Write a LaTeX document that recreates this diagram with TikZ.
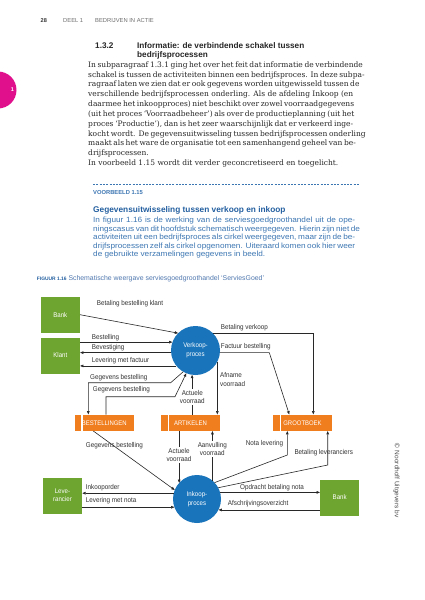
\documentclass[tikz,border=0pt]{standalone}
\usepackage{fontspec}
\setmainfont{DejaVu Serif}
\newfontfamily\labfont{Liberation Sans}[FakeStretch=0.9]
\newfontfamily\hsans{Liberation Sans}
\newfontfamily\bsans{Liberation Sans}[FakeStretch=1.08]
\newfontfamily\serfont{DejaVu Serif}
\newfontfamily\symfont{DejaVu Sans}
\usetikzlibrary{arrows.meta}
\definecolor{grn}{RGB}{110,164,48}
\definecolor{org}{RGB}{240,125,30}
\definecolor{pblue}{RGB}{25,116,187}
\definecolor{mag}{RGB}{224,16,140}
\definecolor{bltxt}{RGB}{60,118,178}
\definecolor{bltitle}{RGB}{35,95,160}
\definecolor{captxt}{RGB}{80,120,175}
\definecolor{lincol}{RGB}{40,40,40}
\definecolor{lbltxt}{RGB}{50,50,50}
\definecolor{hdgray}{RGB}{110,110,110}
\begin{document}
\begin{tikzpicture}[x=1pt,y=-1pt,
  conn/.style={draw=lincol, line width=0.6pt, -{Triangle[length=3.4pt,width=2.6pt]}},
  lbl/.style={font=\labfont\fontsize{7}{8.3}\selectfont, text=lbltxt, inner sep=0pt, align=left},
  lblon/.style={lbl, fill=white, inner sep=1pt, align=center},
  gbox/.style={fill=grn, minimum width=39.5pt, minimum height=36pt, inner sep=0pt, outer sep=0pt, text=white, align=center, font=\labfont\fontsize{6.8}{8.3}\selectfont},
  pcirc/.style={circle, fill=pblue, minimum size=49pt, inner sep=0pt, outer sep=0pt, text=white, align=center, font=\labfont\fontsize{6.8}{8.6}\selectfont},
  store/.style={fill=org, minimum width=59.5pt, minimum height=16.5pt, inner sep=0pt, outer sep=0pt, text=white, font=\labfont\fontsize{6.6}{8}\selectfont},
  bodytxt/.style={font=\serfont\fontsize{7.5}{9.8}\selectfont, text=black!85, inner sep=0pt},
  bluetxt/.style={font=\bsans\fontsize{7.6}{8.5}\selectfont, text=bltxt, inner sep=0pt}
]
\useasboundingbox (0,0) rectangle (425,600);
\fill[white] (0,0) rectangle (425,600);

% header
\node[font=\hsans\bfseries\fontsize{5.6}{6}\selectfont, text=black!80, anchor=west, inner sep=0pt] (pnum) at (40.5,20.7) {28};
\node[font=\hsans\fontsize{5.8}{6}\selectfont, text=hdgray, anchor=west, inner sep=0pt] (deel) at (63,20.7) {DEEL 1};
\node[font=\hsans\fontsize{5.8}{6}\selectfont, text=hdgray, anchor=west, inner sep=0pt] (hdtitle) at (95,20.7) {BEDRIJVEN IN ACTIE};

% chapter tab
\fill[mag] (-2,90) circle (18.5);
\node[font=\hsans\bfseries\fontsize{5.5}{6}\selectfont, text=white, inner sep=0pt] (tab) at (12.5,89.5) {1};

% section heading
\node[font=\hsans\bfseries\fontsize{8.2}{9}\selectfont, text=black!85, anchor=base west, inner sep=0pt] (secnum) at (95,48.6) {1.3.2};
\node[font=\hsans\bfseries\fontsize{8.2}{9}\selectfont, text=black!85, anchor=base west, inner sep=0pt] (sect1) at (137,48.6) {Informatie: de verbindende schakel tussen};
\node[font=\hsans\bfseries\fontsize{8.2}{9}\selectfont, text=black!85, anchor=base west, inner sep=0pt] (sect2) at (137,57.6) {bedrijfsprocessen};

% body text
\foreach \t [count=\i] in {
 {\makebox[265pt][s]{In subparagraaf 1.3.1 ging het over het feit dat informatie de verbindende}},
 {\makebox[265pt][s]{schakel is tussen de activiteiten binnen een bedrijfsproces. In deze subpa-}},
 {\makebox[265pt][s]{ragraaf laten we zien dat er ook gegevens worden uitgewisseld tussen de}},
 {\makebox[265pt][s]{verschillende bedrijfsprocessen onderling. Als de afdeling Inkoop (en}},
 {\makebox[265pt][s]{daarmee het inkoopproces) niet beschikt over zowel voorraadgegevens}},
 {\makebox[265pt][s]{(uit het proces ‘Voorraadbeheer’) als over de productieplanning (uit het}},
 {\makebox[265pt][s]{proces ‘Productie’), dan is het zeer waarschijnlijk dat er verkeerd inge-}},
 {\makebox[265pt][s]{kocht wordt. De gegevensuitwisseling tussen bedrijfsprocessen onderling}},
 {\makebox[265pt][s]{maakt als het ware de organisatie tot een samenhangend geheel van be-}},
 {drijfsprocessen.},
 {In voorbeeld 1.15 wordt dit verder geconcretiseerd en toegelicht.}}
 \node[bodytxt, anchor=base west] (body\i) at (88,{67.2+9.83*(\i-1)}) {\t};

% example block
\draw[bltxt, line width=0.5pt, dash pattern=on 2pt off 1.3pt] (93,184) -- (360,184);
\node[font=\hsans\bfseries\fontsize{5.8}{6}\selectfont, text=bltxt, anchor=west, inner sep=0pt] (vb) at (93,192.5) {VOORBEELD 1.15};
\node[font=\hsans\bfseries\fontsize{8.3}{9}\selectfont, text=bltitle, anchor=west, inner sep=0pt] (vbtitle) at (93,210.7) {Gegevensuitwisseling tussen verkoop en inkoop};
\foreach \t [count=\i] in {
 {\makebox[262pt][s]{In figuur 1.16 is de werking van de serviesgoedgroothandel uit de ope-}},
 {\makebox[262pt][s]{ningscasus van dit hoofdstuk schematisch weergegeven. Hierin zijn niet de}},
 {\makebox[262pt][s]{activiteiten uit een bedrijfsproces als cirkel weergegeven, maar zijn de be-}},
 {\makebox[262pt][s]{drijfsprocessen zelf als cirkel opgenomen. Uiteraard komen ook hier weer}},
 {de gebruikte verzamelingen gegevens in beeld.}}
 \node[bluetxt, anchor=base west] (blue\i) at (93,{222.6+8.5*(\i-1)}) {\t};

% caption
\node[font=\hsans\bfseries\fontsize{4.9}{6}\selectfont, text=bltitle, anchor=west, inner sep=0pt] (fig) at (36.7,279) {FIGUUR 1.16};
\node[font=\hsans\fontsize{6.9}{8}\selectfont, text=captxt, anchor=west, inner sep=0pt] (figcap) at (68.3,279) {Schematische weergave serviesgoedgroothandel ‘ServiesGoed’};

% copyright
\node[font=\hsans\fontsize{6.5}{7}\selectfont, text=black!70, rotate=-90, inner sep=0pt] (copy) at (396.5,480) {{\symfont ©} Noordhoff Uitgevers bv};

% ---- diagram nodes ----
\node[gbox] (bank1) at (60.3,314.7) {Bank};
\node[gbox] (klant) at (60.3,355.5) {Klant};
\node[pcirc] (verkoop) at (195.5,350.5) {Verkoop-\\proces};
\node[gbox] (lev) at (62.5,495.5) {Leve-\\rancier};
\node[gbox] (bank2) at (339.7,497.5) {Bank};
\node[pcirc, minimum size=48pt] (inkoop) at (197,499) {Inkoop-\\proces};

\node[store] (best) at (104.3,422.75) {BESTELLINGEN};
\node[store] (art) at (190.5,422.75) {ARTIKELEN};
\node[store] (groot) at (302.5,422.75) {GROOTBOEK};
\foreach \s in {best,art,groot}
  \draw[white, line width=1.2pt] ([xshift=7.5pt]\s.north west) -- ([xshift=7.5pt]\s.south west);

% bend points
\coordinate (g1a) at (170.7,382.7);
\coordinate (g1b) at (88.3,382.7);
\coordinate (g2a) at (175,396.7);
\coordinate (g2b) at (106,396.7);
\coordinate (fb1) at (269.3,352.6);
\coordinate (nl1) at (287.3,455);
\coordinate (bl1) at (327.7,465);

% ---- connectors ----
\draw[conn] (bank1.east) -- (verkoop.135);
\draw[conn] (klant.east |- verkoop.160.4) -- (verkoop.160.4);
\draw[conn] (verkoop.185.2) -- (klant.east |- verkoop.185.2);
\draw[conn] (verkoop.219.3) -- (klant.east |- verkoop.219.3);
\draw[conn] (verkoop.240) -- (g1a) -- (g1b) -- (g1b |- best.north);
\draw[conn] (g2b |- best.north) -- (g2b) -- (g2a) -- (verkoop.248);
\draw[conn] (verkoop.262.5 |- art.north) -- (verkoop.262.5);
\draw[conn] (verkoop.333) -- (verkoop.333 |- art.north);
\draw[conn] (verkoop.46.6) -| ([xshift=10.8pt]groot.north);
\draw[conn] (verkoop.-5) -- (fb1) -- ([xshift=-13.2pt]groot.north);

\draw[conn] ([xshift=-11pt]best.south) -- (inkoop.158);
\draw[conn] (inkoop.138.6 |- art.south) -- (inkoop.138.6);
\draw[conn] (inkoop.50.4) -- (inkoop.50.4 |- art.south);
\draw[conn] (inkoop.43.9) -- (nl1) -- (nl1 |- groot.south);
\draw[conn] (inkoop.28.8) -- (bl1) -- (bl1 |- groot.south);
\draw[conn] (inkoop.16.2) -- (bank2.west |- inkoop.16.2);
\draw[conn] (bank2.west |- inkoop.-27.3) -- (inkoop.-27.3);
\draw[conn] (inkoop.166.3) -- (lev.east |- inkoop.166.3);
\draw[conn] (lev.east |- inkoop.200.2) -- (inkoop.200.2);

% ---- labels ----
\node[lbl, anchor=west] (l1) at (96.7,304) {Betaling bestelling klant};
\node[lbl, anchor=west] (l2) at (91.7,337.7) {Bestelling};
\node[lbl, anchor=west] (l3) at (91.7,347.3) {Bevestiging};
\node[lbl, anchor=west] (l4) at (91.7,360.3) {Levering met factuur};
\node[lbl, anchor=west] (l5) at (90,377.3) {Gegevens bestelling};
\node[lbl, anchor=west] (l6) at (92.7,389.3) {Gegevens bestelling};
\node[lblon] (l7) at (192.3,397) {Actuele\\voorraad};
\node[lbl, anchor=west] (l8) at (220,379.6) {Afname\\voorraad};
\node[lbl, anchor=west] (l9) at (220.7,327.3) {Betaling verkoop};
\node[lbl, anchor=west] (l10) at (220.7,347) {Factuur bestelling};
\node[lbl, anchor=west] (l11) at (85.7,445.7) {Gegevens bestelling};
\node[lblon] (l12) at (179,455) {Actuele\\voorraad};
\node[lblon] (l13) at (212.3,449) {Aanvulling\\voorraad};
\node[lbl, anchor=west] (l14) at (245.7,443.3) {Nota levering};
\node[lbl, anchor=west] (l15) at (294.3,452.7) {Betaling leveranciers};
\node[lbl, anchor=west] (l16) at (240,487.3) {Opdracht betaling nota};
\node[lbl, anchor=west] (l17) at (227.7,503.3) {Afschrijvingsoverzicht};
\node[lbl, anchor=west] (l18) at (85.7,487.3) {Inkooporder};
\node[lbl, anchor=west] (l19) at (85.7,500.7) {Levering met nota};
\end{tikzpicture}
\end{document}
